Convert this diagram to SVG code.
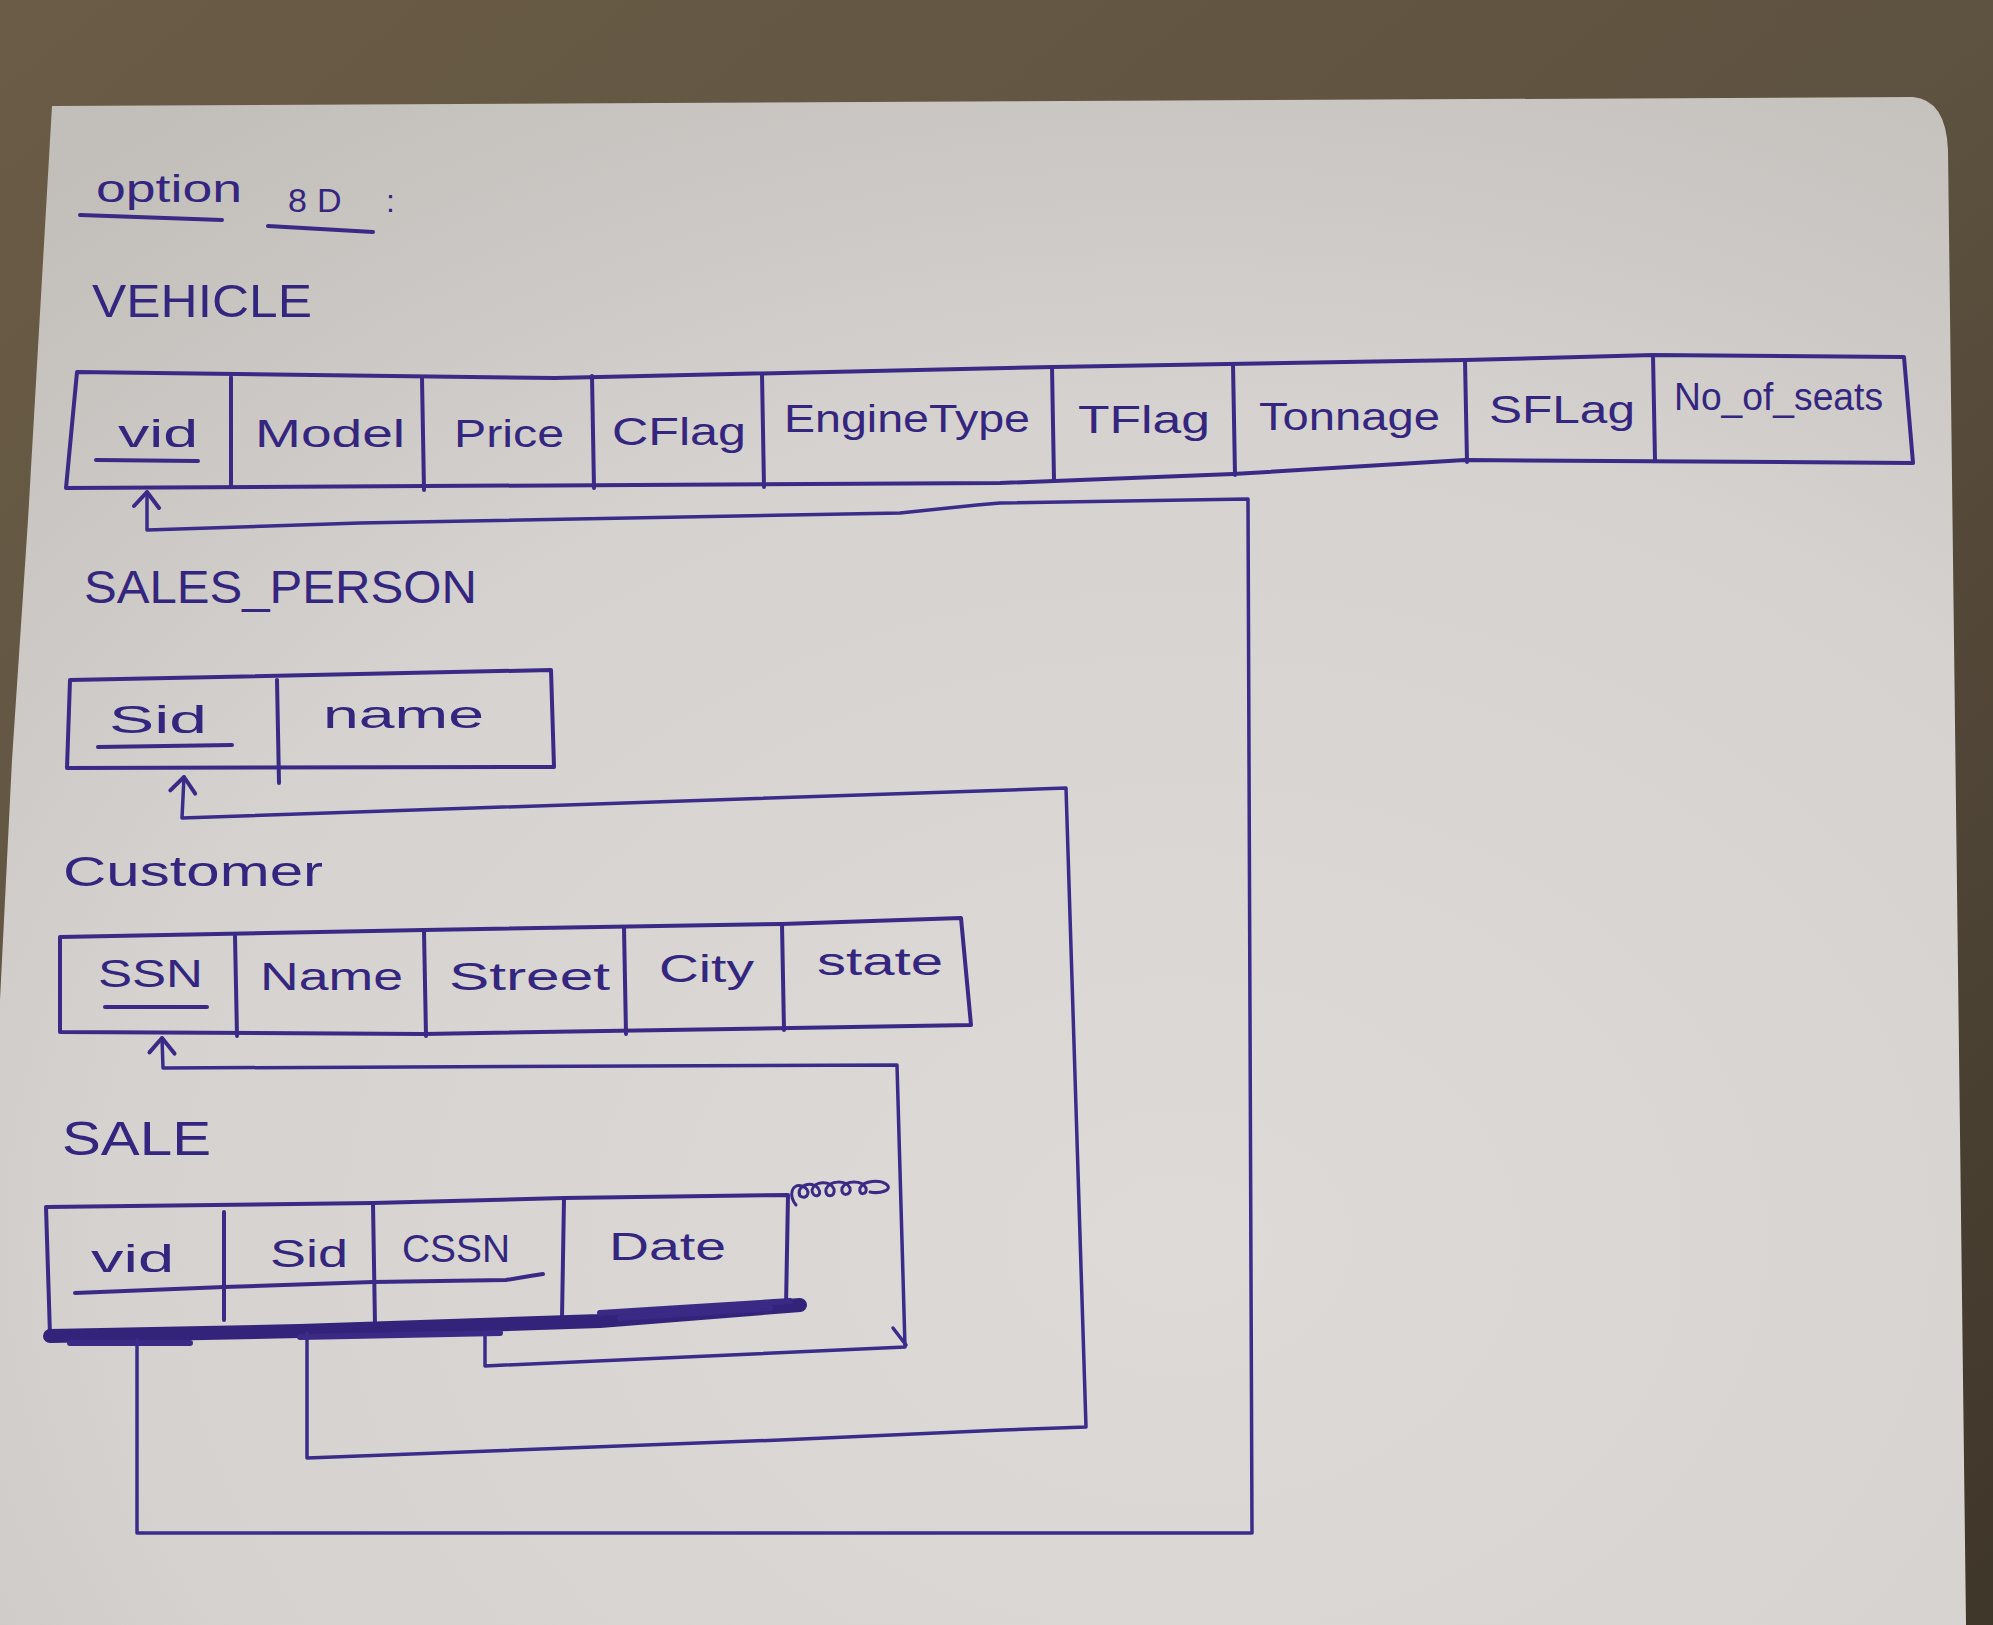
<svg xmlns="http://www.w3.org/2000/svg" width="1993" height="1625" viewBox="0 0 1993 1625">
<defs>
<linearGradient id="bg" x1="0" y1="0" x2="1" y2="1">
<stop offset="0" stop-color="#6a5c46"/>
<stop offset="0.5" stop-color="#5e5240"/>
<stop offset="1" stop-color="#3f362a"/>
</linearGradient>
<radialGradient id="paper" cx="0.6" cy="0.75" r="0.9">
<stop offset="0" stop-color="#dddad8"/>
<stop offset="0.6" stop-color="#d5d2cf"/>
<stop offset="1" stop-color="#c2beba"/>
</radialGradient>
<marker id="arr" markerUnits="userSpaceOnUse" markerWidth="40" markerHeight="40" viewBox="-20 -20 40 40" refX="0" refY="0" orient="auto">
<path d="M-14,-13 L0,0 L-16,12" fill="none" stroke="#3a2a86" stroke-width="4" stroke-linecap="round" stroke-linejoin="round"/>
</marker>
<style>
.ink{fill:none;stroke:#3a2a86;stroke-width:4;stroke-linecap:round;stroke-linejoin:round}
.conn{fill:none;stroke:#3b2c8a;stroke-width:3.5;stroke-linecap:round;stroke-linejoin:round}
.t{font-family:"Liberation Sans","DejaVu Sans",sans-serif;fill:#34267e}
.lbl{font-size:38px}
.title{font-size:46px}
</style>
</defs>
<rect width="1993" height="1625" fill="url(#bg)"/>
<path d="M52,106 L1913,97 Q1946,100 1948,150 L1966,1625 L0,1625 L0,1000 L12,760 L28,520 Z" fill="url(#paper)"/>

<g id="heading">
<text class="t" x="96" y="202" font-size="38" textLength="146" lengthAdjust="spacingAndGlyphs">option</text>
<text class="t" x="288" y="212" font-size="34" letter-spacing="10">8D</text>
<text class="t" x="386" y="212" font-size="32">:</text>
<path class="ink" d="M80,215 L222,220"/>
<path class="ink" d="M268,226 L373,232"/>
</g>

<g id="vehicle">
<text class="t title" x="92" y="317" textLength="220" lengthAdjust="spacingAndGlyphs">VEHICLE</text>
<path class="ink" d="M77,372 L555,378 L1052,367 L1465,360 L1653,355 L1904,357 L1913,463 L1465,460 L1233,474 L1000,483 L66,488 Z"/>
<path class="ink" d="M231,377 L231,487 M422,378 L424,490 M592,376 L594,488 M762,374 L764,487 M1052,367 L1054,480 M1233,364 L1235,475 M1465,360 L1467,462 M1653,355 L1655,460"/>
<text class="t lbl" x="118" y="447" textLength="80" lengthAdjust="spacingAndGlyphs">vid</text>
<path class="ink" d="M96,460 L198,461"/>
<text class="t lbl" x="255" y="447" textLength="150" lengthAdjust="spacingAndGlyphs">Model</text>
<text class="t lbl" x="454" y="447" textLength="110" lengthAdjust="spacingAndGlyphs">Price</text>
<text class="t lbl" x="612" y="445" textLength="134" lengthAdjust="spacingAndGlyphs">CFlag</text>
<text class="t lbl" x="784" y="432" textLength="246" lengthAdjust="spacingAndGlyphs">EngineType</text>
<text class="t lbl" x="1078" y="433" textLength="132" lengthAdjust="spacingAndGlyphs">TFlag</text>
<text class="t lbl" x="1259" y="430" textLength="181" lengthAdjust="spacingAndGlyphs">Tonnage</text>
<text class="t lbl" x="1489" y="423" textLength="146" lengthAdjust="spacingAndGlyphs">SFLag</text>
<text class="t lbl" x="1674" y="410" textLength="209" lengthAdjust="spacingAndGlyphs">No_of_seats</text>
</g>

<g id="sales_person">
<text class="t title" x="84" y="603" textLength="393" lengthAdjust="spacingAndGlyphs">SALES_PERSON</text>
<path class="ink" d="M70,680 L551,670 L554,767 L67,768 Z"/>
<path class="ink" d="M277,680 L279,783"/>
<text class="t lbl" x="109" y="733" textLength="98" lengthAdjust="spacingAndGlyphs">Sid</text>
<path class="ink" d="M98,747 L232,745"/>
<text class="t lbl" x="323" y="728" textLength="161" lengthAdjust="spacingAndGlyphs">name</text>
</g>

<g id="customer">
<text class="t" x="63" y="886" font-size="42" textLength="260" lengthAdjust="spacingAndGlyphs">Customer</text>
<path class="ink" d="M60,937 L424,930 L782,924 L961,918 L971,1025 L424,1034 L60,1032 Z"/>
<path class="ink" d="M235,936 L237,1036 M424,931 L426,1036 M624,927 L626,1034 M782,924 L784,1030"/>
<text class="t lbl" x="98" y="987" textLength="105" lengthAdjust="spacingAndGlyphs">SSN</text>
<path class="ink" d="M105,1007 L207,1007"/>
<text class="t lbl" x="260" y="990" textLength="143" lengthAdjust="spacingAndGlyphs">Name</text>
<text class="t lbl" x="449" y="990" textLength="161" lengthAdjust="spacingAndGlyphs">Street</text>
<text class="t lbl" x="659" y="982" textLength="95" lengthAdjust="spacingAndGlyphs">City</text>
<text class="t lbl" x="817" y="975" textLength="126" lengthAdjust="spacingAndGlyphs">state</text>
</g>

<g id="sale">
<text class="t" x="62" y="1155" font-size="48" textLength="149" lengthAdjust="spacingAndGlyphs">SALE</text>
<path class="ink" d="M50,1335 L46,1207 L373,1203 L564,1198 L788,1195 L786,1307"/>
<path class="ink" d="M224,1212 L224,1320 M373,1203 L375,1325 M564,1198 L562,1318"/>
<path fill="none" stroke="#33237a" stroke-width="14" stroke-linecap="round" d="M50,1336 L300,1331 L600,1321 L800,1305"/>
<path fill="none" stroke="#3a2a86" stroke-width="6" stroke-linecap="round" d="M70,1343 L190,1343 M620,1318 L770,1308 M300,1337 L500,1333 M600,1313 L790,1301"/>
<path fill="none" stroke="#3a2a86" stroke-width="3" stroke-linecap="round" d="M796,1205 C788,1195 792,1183 802,1186 C812,1189 808,1201 800,1196 C795,1186 812,1180 818,1188 C824,1197 812,1199 812,1190 C814,1181 830,1180 834,1189 C836,1198 824,1198 826,1189 C830,1180 846,1180 850,1188 C852,1196 840,1197 842,1188 C846,1180 862,1180 866,1188 C868,1195 858,1196 860,1188 C864,1180 880,1180 886,1184 C894,1190 880,1194 870,1192"/>
<text class="t lbl" x="91" y="1272" textLength="83" lengthAdjust="spacingAndGlyphs">vid</text>
<text class="t lbl" x="270" y="1267" textLength="78" lengthAdjust="spacingAndGlyphs">Sid</text>
<text class="t lbl" x="402" y="1262" textLength="108" lengthAdjust="spacingAndGlyphs">CSSN</text>
<text class="t lbl" x="609" y="1260" textLength="117" lengthAdjust="spacingAndGlyphs">Date</text>
<path class="ink" d="M75,1293 L224,1287 L373,1282 L506,1280 L530,1276 L543,1274"/>
</g>

<g id="connectors">
<path class="conn" marker-end="url(#arr)" d="M137,1340 L137,1533 L1252,1533 L1248,499 L1000,503 L977,505 L900,513 L360,523 L147,530 L147,492"/>
<path class="conn" marker-end="url(#arr)" d="M307,1333 L307,1458 L780,1440 L1003,1430 L1086,1427 L1066,788 L182,818 L184,777"/>
<path class="conn" marker-end="url(#arr)" d="M485,1333 L485,1366 L905,1347 L897,1065 L163,1068 L162,1038"/>
<path class="conn" d="M893,1328 L906,1345"/>
</g>
</svg>
